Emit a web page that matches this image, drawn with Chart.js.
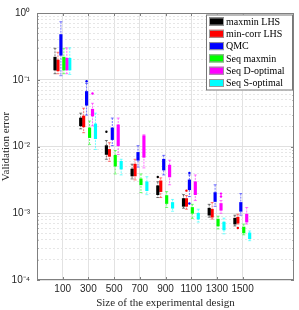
<!DOCTYPE html>
<html>
<head>
<meta charset="utf-8">
<script src="https://cdn.jsdelivr.net/npm/chart.js@4.4.0/dist/chart.umd.min.js"></script>
<style>html,body{margin:0;padding:0;background:#fff}</style>
</head>
<body>
<canvas id="c" width="299" height="310"></canvas>
<script>
const sizes = [100, 300, 500, 700, 900, 1100, 1300, 1500];
const names = ["maxmin LHS", "min-corr LHS", "QMC", "Seq maxmin", "Seq D-optimal", "Seq S-optimal"];
const colors = ["#000000", "#ff0000", "#0000ff", "#00ff00", "#ff00ff", "#00ffff"];

// [lower whisker, q1, q3, upper whisker] for each design size
const maxminLHS = [[0.123, 0.140, 0.218, 0.296], [0.0184, 0.0204, 0.0267, 0.0316], [0.00644, 0.0076, 0.0103, 0.0123], [0.00327, 0.00362, 0.00459, 0.00543],
  [0.00172, 0.0019, 0.00258, 0.00296], [0.00119, 0.00127, 0.00166, 0.0019], [0.000873, 0.000935, 0.00119, 0.00136], [0.000645, 0.000689, 0.000844, 0.000935]];
const minCorrLHS = [[0.123, 0.136, 0.197, 0.258], [0.0161, 0.0197, 0.0286, 0.0375], [0.006, 0.00713, 0.00904, 0.0114], [0.00316, 0.00362, 0.00543, 0.00644],
  [0.00172, 0.00211, 0.00306, 0.00339], [0.00115, 0.00127, 0.00166, 0.00184], [0.000817, 0.000873, 0.00115, 0.00145], [0.000689, 0.000713, 0.000873, 0.000967]];
const qmc = [[0.115, 0.233, 0.475, 0.74], [0.0295, 0.0415, 0.0667, 0.088], [0.0103, 0.0127, 0.019, 0.0267], [0.00491, 0.00623, 0.00816, 0.0103],
  [0.00375, 0.00444, 0.00644, 0.00737], [0.00178, 0.00225, 0.00316, 0.00375], [0.00127, 0.0015, 0.00204, 0.00267], [0.000935, 0.00107, 0.00145, 0.00197]];
const seqMaxmin = [[0.123, 0.140, 0.218, 0.296], [0.0107, 0.0136, 0.019, 0.0241], [0.00388, 0.00508, 0.00737, 0.00873], [0.00204, 0.00267, 0.00327, 0.00388],
  [0.00122, 0.0014, 0.00184, 0.00211], [0.00084, 0.001, 0.00122, 0.00136], [0.000582, 0.000645, 0.000817, 0.000903], [0.000475, 0.000508, 0.000622, 0.000689]];
const seqDopt = [[0.123, 0.140, 0.21, 0.30], [0.0204, 0.0286, 0.0362, 0.0444], [0.0076, 0.0103, 0.0211, 0.0267], [0.00478, 0.00689, 0.0145, 0.015],
  [0.00267, 0.0035, 0.00526, 0.00623], [0.00155, 0.0019, 0.00296, 0.00375], [0.001, 0.00111, 0.0014, 0.00155], [0.000689, 0.000738, 0.000967, 0.00122]];
const seqSopt = [[0.12, 0.14, 0.21, 0.30], [0.00904, 0.0131, 0.0218, 0.0316], [0.00375, 0.00459, 0.006, 0.00644], [0.0019, 0.00218, 0.00296, 0.00353],
  [0.00107, 0.00119, 0.00145, 0.00161], [0.000738, 0.000817, 0.001, 0.00115], [0.000491, 0.000562, 0.000738, 0.000844], [0.000388, 0.000415, 0.000508, 0.000543]];

// outliers: [design size, error]
const outMaxminLHS = [[500, 0.0166], [900, 0.0035]];
const outMinCorrLHS = [[1100, 0.00218], [1500, 0.000601]];
const outQMC = [[300, 0.095], [1100, 0.0040], [1100, 0.0014]];
const outSeqMaxmin = [];
const outSeqDopt = [[300, 0.0623], [1300, 0.00197], [1300, 0.00178]];
const outSeqSopt = [];

const series = [maxminLHS, minCorrLHS, qmc, seqMaxmin, seqDopt, seqSopt];
const outs = [outMaxminLHS, outMinCorrLHS, outQMC, outSeqMaxmin, outSeqDopt, outSeqSopt];
const shift = [-60, -37, -14, 9, 32, 55];

function rgba(hex, a) {
  const n = parseInt(hex.slice(1), 16);
  return `rgba(${n >> 16},${(n >> 8) & 255},${n & 255},${a})`;
}

const datasets = [];
series.forEach((s, k) => {
  const xs = sizes.map(n => n + shift[k]);
  const wl = [];
  s.forEach((q, i) => wl.push({ x: xs[i], y: q[3] }, { x: xs[i], y: q[0] }, { x: xs[i], y: null }));
  datasets.push({ type: "line", data: wl, borderColor: rgba(colors[k], 0.55), borderWidth: 1,
    borderDash: [2, 1], pointRadius: 0, spanGaps: false, order: 3 });
  datasets.push({ type: "scatter", data: s.flatMap((q, i) => [{ x: xs[i], y: q[0] }, { x: xs[i], y: q[3] }]),
    pointStyle: "line", radius: 1.5, borderColor: rgba(colors[k], 0.5), borderWidth: 1, order: 2 });
  datasets.push({ type: "bar", data: s.map((q, i) => ({ x: xs[i], y: [q[1], q[2]] })),
    backgroundColor: colors[k], barThickness: 2.5, grouped: false, order: 1 });
  datasets.push({ type: "scatter", data: outs[k].map(o => ({ x: o[0] + shift[k], y: o[1] })),
    pointStyle: "circle", radius: 1.2, backgroundColor: colors[k], borderWidth: 0, order: 0 });
});

const sup = { "-": "\u207b", "0": "\u2070", "1": "\u00b9", "2": "\u00b2", "3": "\u00b3", "4": "\u2074" };
const isPow = v => Math.abs(Math.log10(v) - Math.round(Math.log10(v))) < 1e-9;

const decor = {
  id: "decor",
  afterDraw(chart) {
    const { ctx, chartArea: a, scales: { x, y } } = chart;
    ctx.save();
    ctx.strokeStyle = "#808080";
    ctx.lineWidth = 1;
    const seg = (x1, y1, x2, y2) => { ctx.beginPath(); ctx.moveTo(x1, y1); ctx.lineTo(x2, y2); ctx.stroke(); };
    ctx.strokeRect(a.left + 0.5, a.top + 0.5, a.width - 1, a.height - 1);
    y.ticks.forEach(t => {
      const p = Math.round(y.getPixelForValue(t.value)) + 0.5;
      const len = isPow(t.value) ? 3 : 1.5;
      seg(a.left, p, a.left + len, p);
      seg(a.right - len, p, a.right, p);
    });
    x.ticks.forEach(t => {
      const p = Math.round(x.getPixelForValue(t.value)) + 0.5;
      seg(p, a.bottom, p, a.bottom - 3);
      seg(p, a.top, p, a.top + 3);
    });
    // legend
    const lx = a.right - 88, ly = a.top + 1.5, lw = 87, lh = 76;
    ctx.fillStyle = "#fff";
    ctx.fillRect(lx, ly, lw, lh);
    ctx.strokeStyle = "#777";
    ctx.strokeRect(lx + 0.5, ly + 0.5, lw - 1, lh - 1);
    ctx.font = "10px 'Liberation Serif'";
    ctx.textBaseline = "middle";
    names.forEach((nm, i) => {
      const cy = ly + 7 + i * 12.3;
      ctx.fillStyle = colors[i];
      ctx.fillRect(lx + 3, cy - 4, 15, 8);
      ctx.strokeStyle = "#999";
      ctx.strokeRect(lx + 3.5, cy - 3.5, 14, 7);
      ctx.fillStyle = "#000";
      ctx.fillText(nm, lx + 20, cy + 0.5);
    });
    ctx.restore();
  }
};

new Chart(document.getElementById("c"), {
  type: "bar",
  data: { datasets },
  options: {
    responsive: false,
    devicePixelRatio: 1,
    animation: false,
    layout: { padding: { top: 8, right: 2, left: 0, bottom: 0 } },
    plugins: { legend: { display: false }, tooltip: { enabled: false } },
    scales: {
      x: {
        type: "linear", min: -100, max: 1900, offset: false,
        afterBuildTicks: s => { s.ticks = sizes.map(v => ({ value: v })); },
        afterFit: s => { s.height = 30; },
        grid: { offset: false, color: "#e2e2e2", drawTicks: false },
        border: { display: false },
        ticks: { font: { family: "'Liberation Sans'", size: 10 }, color: "#262626", padding: 3, autoSkip: false, maxRotation: 0,
          callback: v => String(v) },
        title: { display: true, text: "Size of the experimental design", font: { family: "'Liberation Serif'", size: 11 }, color: "#262626", padding: 0 }
      },
      y: {
        type: "logarithmic", min: 1e-4, max: 1,
        afterBuildTicks: s => {
          const t = [];
          for (let e = -4; e < 0; e++) for (let m = 1; m < 10; m++) t.push({ value: m * Math.pow(10, e) });
          t.push({ value: 1 });
          s.ticks = t;
        },
        afterFit: s => { s.width = 37; },
        grid: {
          drawTicks: false,
          color: c => (c.tick && !isPow(c.tick.value)) ? "#e6e6e6" : "#e0e0e0"
        },
        border: { display: false, dash: c => (c.tick && !isPow(c.tick.value)) ? [2, 2] : [] },
        ticks: {
          font: { family: "'Liberation Sans'", size: 10 }, color: "#262626", padding: 7, autoSkip: false,
          callback: v => isPow(v) ? "10" + String(Math.round(Math.log10(v))).split("").map(c => sup[c]).join("") : ""
        },
        title: { display: true, text: "Validation error", font: { family: "'Liberation Serif'", size: 11 }, color: "#262626", padding: 0 }
      }
    }
  },
  plugins: [decor]
});
</script>
</body>
</html>
